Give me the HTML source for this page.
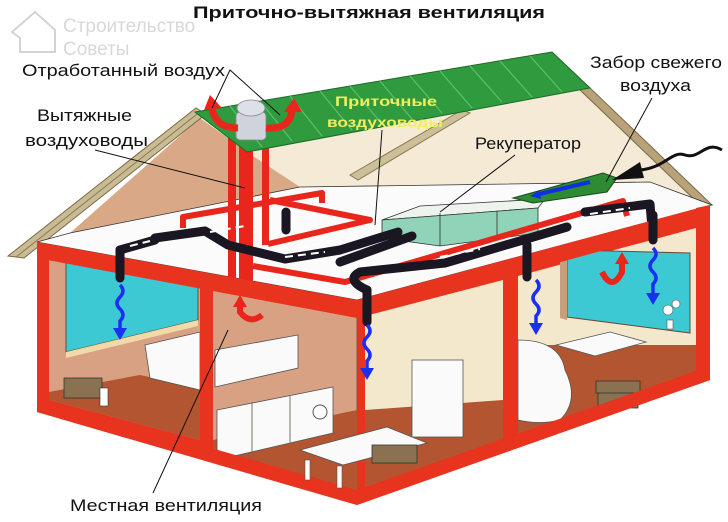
<!DOCTYPE html>
<html><head><meta charset="utf-8"><style>
html,body{margin:0;padding:0;background:#fff;}
svg{display:block;}
text{font-family:"Liberation Sans","DejaVu Sans",sans-serif;}
</style></head><body>
<svg width="728" height="522" viewBox="0 0 728 522" xmlns="http://www.w3.org/2000/svg">
<rect width="728" height="522" fill="#fff"/>
<!-- watermark -->
<g fill="#e0e0e0" stroke="#d4d4d4">
<path d="M12 32 L35 12 L55 30 L55 52 L20 52 L20 38 Z" fill="none" stroke-width="2"/>
</g>
<text x="63" y="32" font-size="19" fill="#d8d8d8">Строительство</text>
<text x="63" y="55" font-size="19" fill="#d8d8d8">Советы</text>
<!-- title -->
<text x="369" y="18" font-size="17" font-weight="bold" text-anchor="middle" textLength="352" lengthAdjust="spacingAndGlyphs" fill="#111">Приточно-вытяжная вентиляция</text>

<!-- attic back areas -->
<polygon points="247,152 590,88 703,203 650,182 300,187" fill="#f4ead6"/>
<polygon points="70,233 200,118 247,152 300,187" fill="#d9a886"/>
<!-- mid gable strip -->
<polygon points="350,175 462,110 470,113 358,180" fill="#cdbf98" stroke="#8a7a55" stroke-width="1"/>
<!-- right roof edge -->
<polygon points="578,88 588,86 712,205 700,205" fill="#b8a27a" stroke="#7a6a48" stroke-width="1"/>
<!-- left roof edge -->
<polygon points="8,256 196,108 206,114 24,258" fill="#c9bb93" stroke="#7a6a48" stroke-width="1"/>
<line x1="16" y1="257" x2="201" y2="111" stroke="#8a7a55" stroke-width="1"/>
<!-- attic floor -->
<polygon points="37,242 70,233 300,187 650,182 712,205 357,300" fill="#fbfbfb" stroke="#333" stroke-width="0.8"/>

<!-- recuperator -->
<polygon points="382,220 420,206 545,199 538,208" fill="#eef3ee" stroke="#333" stroke-width="0.8"/>
<polygon points="382,220 538,208 538,233 440,246 382,238" fill="#8fd3b8" stroke="#333" stroke-width="0.8"/>
<line x1="440" y1="246" x2="440" y2="213" stroke="#333" stroke-width="0.8"/>
<line x1="497" y1="238" x2="497" y2="211" stroke="#333" stroke-width="0.8"/>
<!-- green intake -->
<polygon points="513,198 603,173 617,178 607,192 533,203" fill="#2f8a34" stroke="#1a4a1a" stroke-width="1"/>
<path d="M535 195 L590 182" stroke="#1030e0" stroke-width="4"/>
<polygon points="530,196 540,190 541,199" fill="#1030e0"/>
<path d="M722 150 C705 140 700 160 685 155 C672 150 665 168 640 170" stroke="#111" stroke-width="3" fill="none"/>
<polygon points="612,180 640,162 644,178" fill="#111"/>

<!-- red exhaust risers -->
<rect x="228" y="125" width="8" height="155" fill="#e8261c"/>
<rect x="239" y="125" width="14" height="160" fill="#e8261c"/>
<rect x="262" y="145" width="7" height="100" fill="#e8261c"/>
<!-- red pipes -->
<g stroke="#e8261c" stroke-width="6" fill="none" stroke-linejoin="round">
<path d="M183 228 L183 217 L322 193 L322 203"/>
<path d="M268 244 L370 220 L270 200"/>
<path d="M253 266 L345 282 L623 201 L627 216"/>
</g>
<!-- black ducts -->
<g stroke="#1a1622" stroke-width="9" fill="none" stroke-linecap="round" stroke-linejoin="round">
<path d="M155 238 L205 231 L228 245 L285 259 L340 250 L398 232"/>
<path d="M120 278 L120 250 L155 240"/>
<path d="M340 262 L412 236"/>
<path d="M367 322 L367 290 Q345 280 360 272 L445 263 L567 227"/>
<path d="M527 277 L527 245"/>
<path d="M585 212 L650 204 L653 240"/>
<path d="M286 212 L286 230"/>
</g>
<g stroke="#fff" stroke-width="2" stroke-dasharray="8 5">
<path d="M130 246 L150 241"/><path d="M210 232 L245 226"/><path d="M300 248 L335 240"/><path d="M285 257 L325 252"/>
<path d="M440 257 L480 249"/><path d="M590 214 L630 208"/>
</g>

<!-- green roof -->
<polygon points="195,112 552,52 590,88 247,152" fill="#2f9a3e" stroke="#1b6a28" stroke-width="1"/>
<g stroke="#5cc070" stroke-width="1.2">
<line x1="230" y1="106" x2="262" y2="147"/><line x1="260" y1="101" x2="292" y2="141"/><line x1="290" y1="96" x2="322" y2="136"/><line x1="320" y1="91" x2="352" y2="130"/><line x1="350" y1="86" x2="382" y2="124"/><line x1="380" y1="81" x2="412" y2="119"/><line x1="410" y1="76" x2="442" y2="113"/><line x1="440" y1="71" x2="472" y2="108"/><line x1="470" y1="66" x2="502" y2="102"/><line x1="500" y1="61" x2="532" y2="97"/><line x1="530" y1="56" x2="562" y2="92"/>
</g>
<text x="386" y="106" font-size="14" font-weight="bold" fill="#f0ee60" text-anchor="middle" textLength="102" lengthAdjust="spacingAndGlyphs">Приточные</text>
<text x="385" y="127" font-size="14" font-weight="bold" fill="#f0ee60" text-anchor="middle" textLength="116" lengthAdjust="spacingAndGlyphs">воздуховоды</text>
<!-- chimney cap -->
<rect x="236" y="112" width="30" height="28" rx="4" fill="#cfd3dc" stroke="#888" stroke-width="0.8"/>
<ellipse cx="251" cy="108" rx="14" ry="8" fill="#dde0e8" stroke="#888" stroke-width="0.8"/>
<!-- red exhaust arrows -->
<path d="M238 128 Q215 128 212 108" stroke="#e8261c" stroke-width="7" fill="none"/>
<polygon points="204,110 210,95 222,108" fill="#e8261c"/>
<path d="M266 128 Q290 130 292 110" stroke="#e8261c" stroke-width="7" fill="none"/>
<polygon points="284,112 294,98 302,112" fill="#e8261c"/>

<!-- LEFT FACE -->
<polygon points="37,242 357,300 357,505 37,412" fill="#e8331f"/>
<!-- left room interior -->
<polygon points="49,258 200,285 200,440 49,400" fill="#d9a184"/>
<polygon points="49,392 140,375 200,388 200,440 49,400" fill="#b35530"/>
<polygon points="66,262 198,286 198,320 66,352" fill="#3cc9d3" stroke="#6a4a30" stroke-width="1"/>
<polygon points="66,352 198,320 198,326 66,358" fill="#f1d9a8"/>
<!-- bed -->
<polygon points="145,345 200,332 200,390 150,378" fill="#fafafa" stroke="#555" stroke-width="0.8"/>
<!-- radiator -->
<rect x="64" y="378" width="38" height="20" fill="#8a7250" stroke="#333" stroke-width="0.8"/>
<rect x="100" y="388" width="8" height="18" fill="#fff" stroke="#333" stroke-width="0.6"/>
<!-- kitchen interior -->
<polygon points="213,290 357,316 357,490 213,452" fill="#d9a184"/>
<polygon points="213,440 357,410 357,490 213,452" fill="#b35530"/>
<polygon points="215,350 298,335 298,368 215,387" fill="#fafafa" stroke="#555" stroke-width="0.8"/>
<polygon points="217,410 333,387 333,433 217,460" fill="#fafafa" stroke="#555" stroke-width="0.8"/>
<line x1="252" y1="402" x2="252" y2="452" stroke="#776" /><line x1="290" y1="395" x2="290" y2="444" stroke="#776"/>
<circle cx="320" cy="412" r="7" fill="#fff" stroke="#555"/>
<!-- red wall frame overlays left -->
<polygon points="37,242 357,300 357,318 37,258" fill="#e8331f"/>
<polygon points="37,242 49,244 49,412 37,412" fill="#e8331f"/>
<polygon points="200,280 213,282 213,450 200,446" fill="#e8331f"/>
<polygon points="37,398 357,490 357,505 37,412" fill="#e8331f"/>

<!-- RIGHT FACE -->
<polygon points="357,300 710,205 710,380 357,505" fill="#e8331f"/>
<polygon points="365,316 503,280 503,440 365,490" fill="#f4e8cc"/>
<polygon points="365,410 503,400 503,440 365,490" fill="#b35530"/>
<polygon points="518,276 696,228 696,372 518,436" fill="#f4e8cc"/>
<polygon points="518,345 696,345 696,372 518,436" fill="#b35530"/>
<polygon points="567,250 690,253 690,333 567,317" fill="#3cc9d3" stroke="#6a4a30" stroke-width="1"/>
<polygon points="560,245 567,250 567,320 560,318" fill="#c99e78"/>
<!-- fridge -->
<rect x="412" y="360" width="51" height="77" fill="#fafafa" stroke="#555" stroke-width="0.8"/>
<!-- hall table -->
<polygon points="300,450 387,427 427,443 343,465" fill="#fafafa" stroke="#555" stroke-width="0.8"/>
<rect x="305" y="460" width="5" height="20" fill="#fff" stroke="#555" stroke-width="0.6"/>
<rect x="337" y="466" width="5" height="22" fill="#fff" stroke="#555" stroke-width="0.6"/>
<rect x="372" y="445" width="45" height="18" fill="#8a7250" stroke="#333" stroke-width="0.8"/>
<!-- living room -->
<path d="M518 340 Q560 340 565 370 Q580 400 560 420 Q540 425 518 420 Z" fill="#fafafa" stroke="#555" stroke-width="0.8"/>
<polygon points="556,345 610,332 646,342 595,356" fill="#fafafa" stroke="#555" stroke-width="0.8"/>
<rect x="598" y="392" width="40" height="16" fill="#8a7250" stroke="#333" stroke-width="0.8"/>
<rect x="596" y="381" width="44" height="12" fill="#8a7250" stroke="#333" stroke-width="0.8"/>
<g fill="#fff" stroke="#555" stroke-width="0.6"><circle cx="668" cy="310" r="5"/><circle cx="676" cy="304" r="4"/><rect x="667" y="320" width="6" height="9"/></g>
<!-- red frame overlays right -->
<polygon points="357,300 710,205 710,221 357,318" fill="#e8331f"/>
<polygon points="503,270 518,266 518,440 503,445" fill="#e8331f"/>
<polygon points="696,208 710,205 710,380 696,385" fill="#e8331f"/>
<polygon points="357,490 710,366 710,380 357,505" fill="#e8331f"/>
<line x1="357" y1="318" x2="357" y2="410" stroke="#7a5a40" stroke-width="1"/>

<!-- downpipes over band -->
<g stroke="#1a1622" stroke-width="9" fill="none" stroke-linecap="round">
<path d="M367 290 L367 322"/><path d="M527 245 L527 277"/><path d="M653 215 L653 240"/><path d="M120 250 L120 278"/>
</g>
<!-- blue wavy arrows -->
<g stroke="#1a30f0" stroke-width="3.5" fill="none">
<path d="M120 285 q6 6 0 12 q-6 6 0 12 q6 6 0 12 L120 330"/>
<path d="M367 325 q6 6 0 12 q-6 6 0 12 q6 6 0 12 L367 370"/>
<path d="M536 280 q6 6 0 12 q-6 6 0 12 q6 6 0 12 L536 325"/>
<path d="M653 248 q6 6 0 12 q-6 6 0 12 q6 6 0 12 L653 295"/>
</g>
<g fill="#1a30f0">
<polygon points="113,328 127,328 120,340"/><polygon points="360,368 374,368 367,380"/><polygon points="529,323 543,323 536,335"/><polygon points="646,293 660,293 653,305"/>
</g>
<!-- red curved arrows -->
<path d="M262 315 Q250 325 240 312 L240 305" stroke="#e8261c" stroke-width="6" fill="none"/>
<polygon points="233,307 240,295 247,307" fill="#e8261c"/>
<path d="M602 272 Q612 292 622 272 L622 262" stroke="#e8261c" stroke-width="6" fill="none"/>
<polygon points="615,264 622,252 629,264" fill="#e8261c"/>

<!-- labels -->
<g fill="#111" font-size="17">
<text x="22" y="76" textLength="203" lengthAdjust="spacingAndGlyphs">Отработанный воздух</text>
<text x="37" y="121" textLength="95" lengthAdjust="spacingAndGlyphs">Вытяжные</text>
<text x="25" y="146" textLength="123" lengthAdjust="spacingAndGlyphs">воздуховоды</text>
<text x="475" y="149" textLength="106" lengthAdjust="spacingAndGlyphs">Рекуператор</text>
<text x="590" y="68" textLength="132" lengthAdjust="spacingAndGlyphs">Забор свежего</text>
<text x="620" y="91" textLength="71" lengthAdjust="spacingAndGlyphs">воздуха</text>
<text x="70" y="511" textLength="192" lengthAdjust="spacingAndGlyphs">Местная вентиляция</text>
</g>
<g stroke="#111" stroke-width="1" fill="none">
<path d="M212 108 L230 70 L280 115"/>
<path d="M95 150 L245 188"/>
<path d="M382 130 L375 225"/>
<path d="M515 155 L440 212"/>
<path d="M652 98 L606 182"/>
<path d="M153 493 L228 330"/>
</g>
</svg>
</body></html>
